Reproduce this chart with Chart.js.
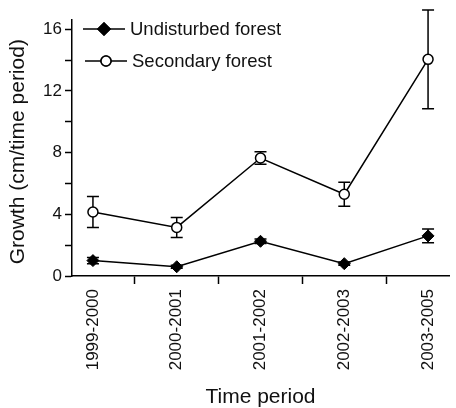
<!DOCTYPE html>
<html>
<head>
<meta charset="utf-8">
<script src="https://cdn.jsdelivr.net/npm/chart.js@4"></script>
<style>
  html, body { margin: 0; padding: 0; background: #fff; }
  #wrap { width: 456px; height: 408px; }
</style>
</head>
<body>
<div id="wrap"><canvas id="chart" width="456" height="408"></canvas></div>
<script>
// 数据
const periods = ['1999-2000', '2000-2001', '2001-2002', '2002-2003', '2003-2005'];
const undisturbed = [1.0, 0.6, 2.25, 0.8, 2.6];
const undisturbedErr = [0.2, 0.1, 0.15, 0.1, 0.45];
const secondary = [4.15, 3.15, 7.65, 5.3, 14.05];
const secondaryErr = [1.0, 0.65, 0.4, 0.78, 3.2];
const yTicks = [0, 2, 4, 6, 8, 10, 12, 14, 16];

const FONT = "'Liberation Sans', Arial, sans-serif";

// 误差线
const errorBars = {
    id: 'errorBars',
    beforeDatasetsDraw(chart) {
        const ctx = chart.ctx;
        const ys = chart.scales.y;
        const errs = [undisturbedErr, secondaryErr];
        ctx.save();
        ctx.strokeStyle = '#000';
        ctx.lineWidth = 1.5;
        chart.data.datasets.forEach((ds, di) => {
            const meta = chart.getDatasetMeta(di);
            meta.data.forEach((pt, i) => {
                const v = ds.data[i].y;
                const e = errs[di][i];
                const top = ys.getPixelForValue(v + e);
                const bot = ys.getPixelForValue(v - e);
                ctx.beginPath();
                ctx.moveTo(pt.x, top); ctx.lineTo(pt.x, bot);
                ctx.moveTo(pt.x - 6, top); ctx.lineTo(pt.x + 6, top);
                ctx.moveTo(pt.x - 6, bot); ctx.lineTo(pt.x + 6, bot);
                ctx.stroke();
            });
        });
        ctx.restore();
    }
};

// 图例
const legendBox = {
    id: 'legendBox',
    afterDraw(chart) {
        const ctx = chart.ctx;
        const rows = [{y: 29, x0: 83, x1: 125}, {y: 61, x0: 85, x1: 127}];
        ctx.save();
        chart.data.datasets.forEach((ds, i) => {
            const r = rows[i];
            ctx.strokeStyle = '#000';
            ctx.lineWidth = 1.5;
            ctx.beginPath();
            ctx.moveTo(r.x0, r.y); ctx.lineTo(r.x1, r.y);
            ctx.stroke();
            Chart.helpers.drawPoint(ctx, {
                pointStyle: ds.pointStyle, radius: ds.pointRadius, borderWidth: 1.5
            }, (r.x0 + r.x1) / 2, r.y);
            ctx.fillStyle = ds.pointBackgroundColor;
            ctx.strokeStyle = '#000';
            ctx.fill(); ctx.stroke();
            ctx.fillStyle = '#111';
            ctx.font = '18.5px ' + FONT;
            ctx.textBaseline = 'middle';
            ctx.fillText(ds.label, r.x1 + 5, r.y + 1);
        });
        ctx.restore();
    }
};

function series(vals) {
    return vals.map((v, i) => ({x: i, y: v}));
}

new Chart(document.getElementById('chart'), {
    type: 'line',
    data: {
        datasets: [{
            label: 'Undisturbed forest',
            data: series(undisturbed),
            borderColor: '#000',
            borderWidth: 1.5,
            pointStyle: 'rectRot',
            pointRadius: 6,
            pointBackgroundColor: '#000',
            pointBorderColor: '#000',
            pointBorderWidth: 1
        }, {
            label: 'Secondary forest',
            data: series(secondary),
            borderColor: '#000',
            borderWidth: 1.5,
            pointStyle: 'circle',
            pointRadius: 5,
            pointBackgroundColor: '#fff',
            pointBorderColor: '#000',
            pointBorderWidth: 1.5
        }]
    },
    options: {
        responsive: false,
        animation: false,
        clip: false,
        layout: {padding: {top: 20, right: 1, left: 0, bottom: 0}},
        plugins: {legend: {display: false}, tooltip: {enabled: false}},
        scales: {
            x: {
                type: 'linear',
                min: -0.25,
                max: 4.25,
                afterBuildTicks: s => { s.ticks = [0, 0.5, 1, 1.5, 2, 2.5, 3, 3.5, 4].map(v => ({value: v})); },
                afterFit: s => { s.height = 132; },
                ticks: {
                    autoSkip: false,
                    minRotation: 90,
                    maxRotation: 90,
                    padding: 5,
                    color: '#111',
                    font: {family: FONT, size: 17},
                    callback: v => Number.isInteger(v) ? periods[v] : ''
                },
                grid: {
                    drawOnChartArea: false,
                    tickLength: 8,
                    tickWidth: 1.5,
                    color: c => Number.isInteger(c.tick.value) ? 'rgba(0,0,0,0)' : '#000'
                },
                border: {display: true, color: '#000', width: 1.5},
                title: {display: true, text: 'Time period', color: '#111',
                        font: {family: FONT, size: 21}, padding: {top: 4, bottom: -2}}
            },
            y: {
                min: 0,
                max: 16.6,
                afterBuildTicks: s => { s.ticks = yTicks.map(v => ({value: v})); },
                afterFit: s => { s.width = 72; },
                ticks: {
                    padding: 3,
                    color: '#111',
                    font: {family: FONT, size: 17},
                    callback: v => v % 4 === 0 ? v : ''
                },
                grid: {
                    drawOnChartArea: false,
                    tickLength: 7,
                    tickWidth: 1.5,
                    color: '#000'
                },
                border: {display: true, color: '#000', width: 1.5},
                title: {display: true, text: '  Growth (cm/time period)', align: 'start', color: '#111',
                        font: {family: FONT, size: 21}, padding: {top: 6, bottom: 2}}
            }
        }
    },
    plugins: [errorBars, legendBox]
});
</script>
</body>
</html>
